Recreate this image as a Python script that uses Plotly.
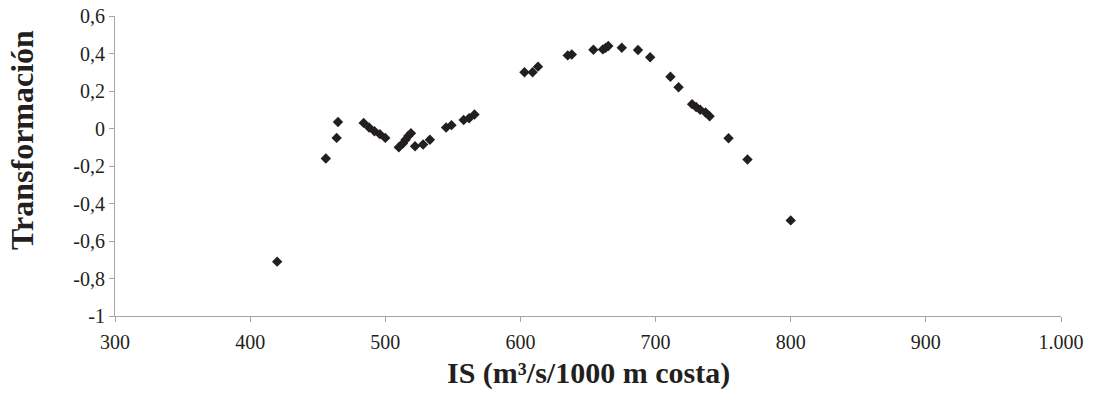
import plotly.graph_objects as go

# IS (m3/s per 1000 m of coast) and the corresponding transformation value
is_vals = [420, 456, 464, 465, 484, 488, 492, 496, 500, 510, 513, 515, 517, 519,
           522, 528, 533, 545, 549, 558, 562, 566, 603, 609, 613, 635, 638,
           654, 661, 663, 665, 675, 687, 696, 711, 717, 727, 730, 733, 737, 740,
           754, 768, 800]
transf = [-0.71, -0.16, -0.05, 0.035, 0.03, 0.005, -0.015, -0.03, -0.05, -0.10, -0.08,
          -0.06, -0.04, -0.025, -0.095, -0.085, -0.06, 0.005, 0.018, 0.045, 0.055, 0.075,
          0.30, 0.30, 0.33, 0.39, 0.395, 0.42, 0.422, 0.43, 0.44, 0.431, 0.419, 0.38,
          0.276, 0.22, 0.13, 0.115, 0.10, 0.085, 0.065, -0.052, -0.165, -0.49]

x_ticks = [300, 400, 500, 600, 700, 800, 900, 1000]
x_tick_text = ["300", "400", "500", "600", "700", "800", "900", "1.000"]
y_ticks = [-1, -0.8, -0.6, -0.4, -0.2, 0, 0.2, 0.4, 0.6]
y_tick_text = ["-1", "-0,8", "-0,6", "-0,4", "-0,2", "0", "0,2", "0,4", "0,6"]

serif = "Liberation Serif"

fig = go.Figure()
fig.add_trace(go.Scatter(
    x=is_vals, y=transf, mode="markers",
    marker=dict(symbol="diamond", size=8, color="#231f20", line=dict(width=0)),
    showlegend=False,
))

axis_common = dict(
    showgrid=False, zeroline=False, showline=True, linecolor="#a6a6a6", linewidth=1,
    ticks="outside", ticklen=5, tickcolor="#a6a6a6", tickwidth=1,
    tickfont=dict(family=serif, size=20, color="#231f20"),
    automargin=False,
)

fig.update_xaxes(range=[300, 1000], tickmode="array", tickvals=x_ticks,
                 ticktext=x_tick_text, ticklabelstandoff=3, **axis_common)
fig.update_yaxes(range=[-1, 0.6], tickmode="array", tickvals=y_ticks,
                 ticktext=y_tick_text, **axis_common)

fig.add_annotation(
    text="<b>Transformación</b>", textangle=-90, xref="paper", yref="paper",
    x=-0.0983, y=0.587, xanchor="center", yanchor="middle", showarrow=False,
    font=dict(family=serif, size=32, color="#231f20"),
)
fig.add_annotation(
    text="<b>IS (m³/s/1000 m costa)</b>", xref="paper", yref="paper",
    x=0.5, y=-0.19, xanchor="center", yanchor="middle", showarrow=False,
    font=dict(family=serif, size=30, color="#231f20"),
)

fig.update_layout(
    width=1094, height=400,
    margin=dict(l=115, r=33, t=16, b=84),
    paper_bgcolor="white", plot_bgcolor="white",
    font=dict(family=serif),
)

fig.write_html("out.html")
